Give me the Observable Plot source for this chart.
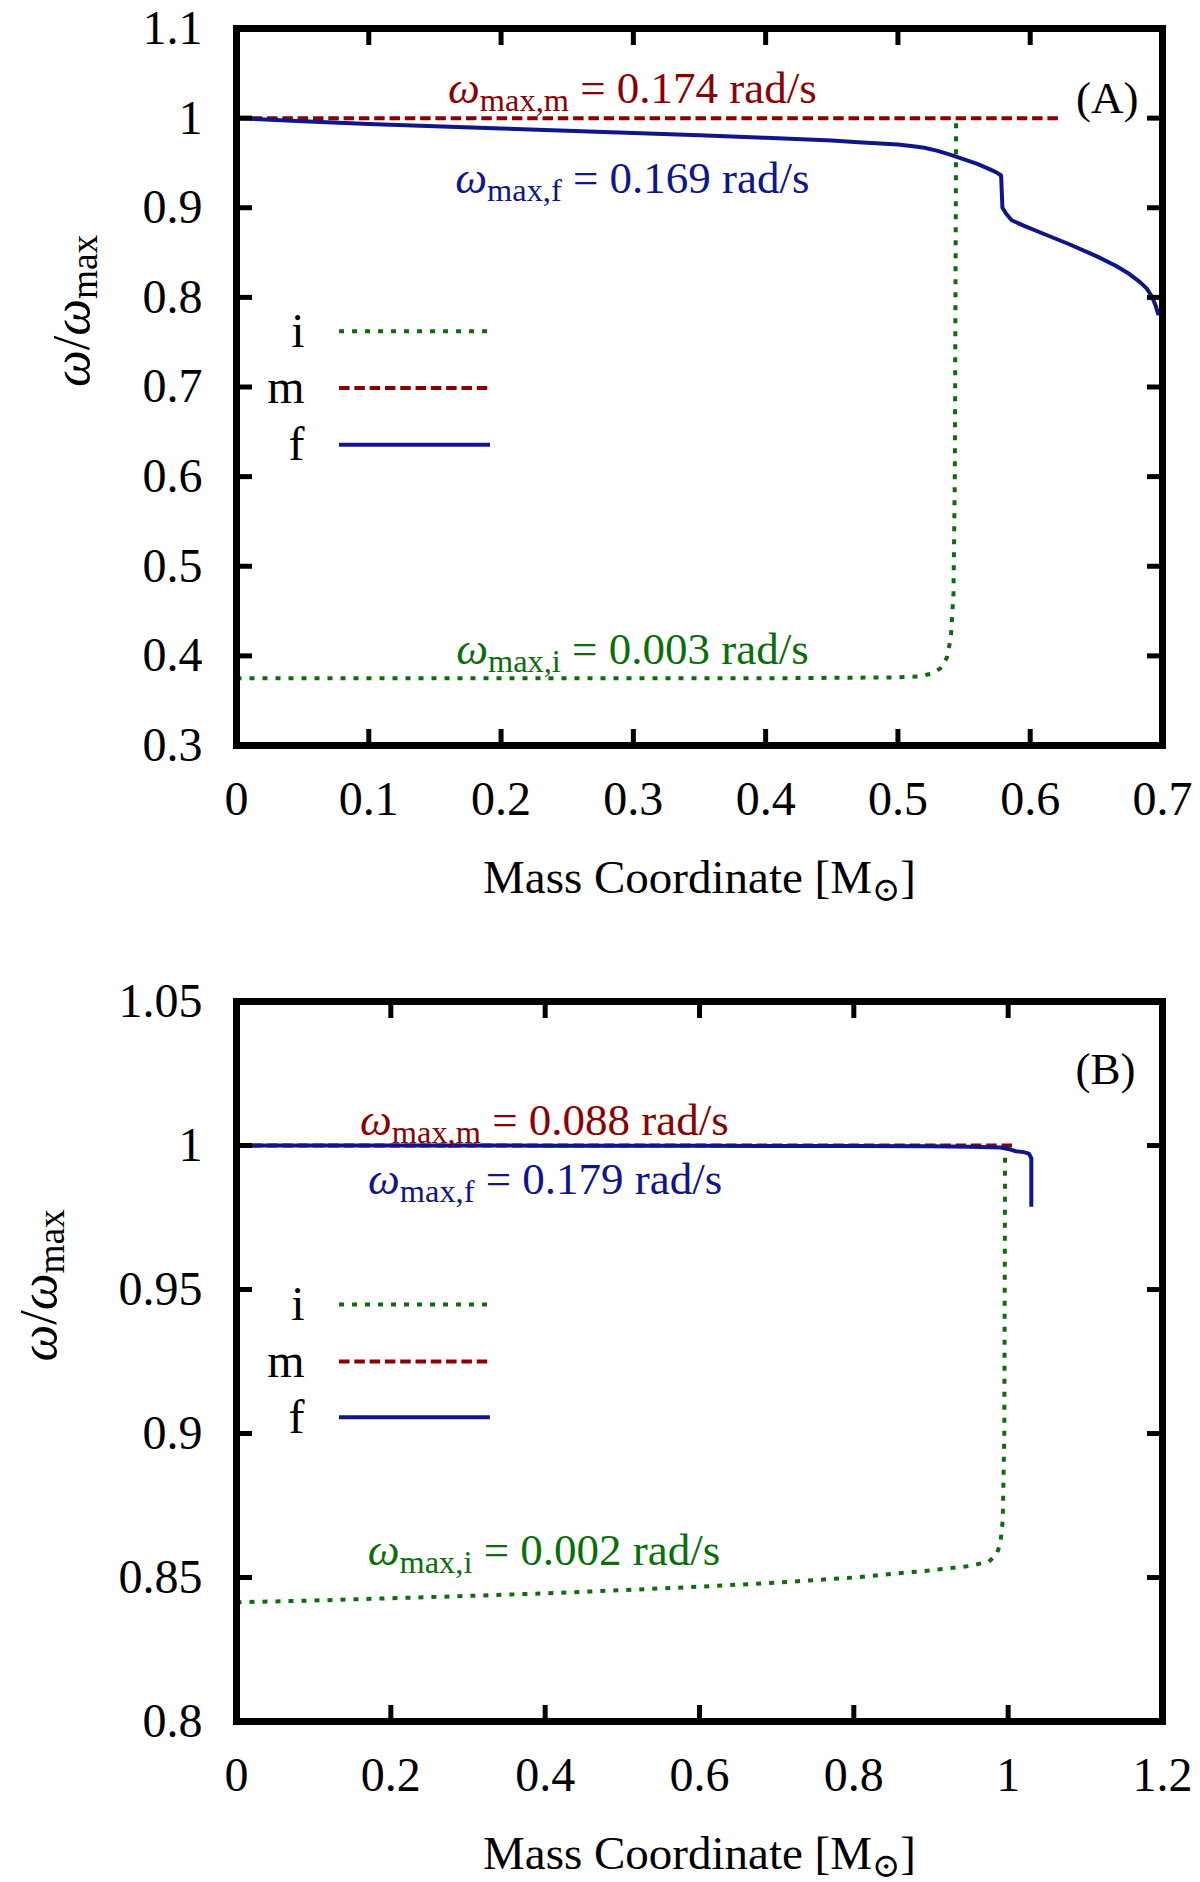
<!DOCTYPE html>
<html>
<head>
<meta charset="utf-8">
<script src="https://cdn.jsdelivr.net/npm/d3@7"></script>
<script src="https://cdn.jsdelivr.net/npm/@observablehq/plot@0.6"></script>
<style>
  body { margin: 0; background: #fff; }
  #chart { width: 1200px; }
  #chart svg { display: block; }
</style>
</head>
<body>
<div id="chart"></div>
<script>
// ---- panel (A) ----
const massA_i = [0, 0.1, 0.2, 0.3, 0.4, 0.5, 0.515, 0.525, 0.532, 0.537, 0.540, 0.542, 0.543, 0.5435, 0.544]
const omegaA_i = [0.375, 0.375, 0.375, 0.375, 0.375, 0.376, 0.377, 0.380, 0.386, 0.398, 0.42, 0.47, 0.6, 0.8, 1.0]
const massA_m = [0, 0.623]
const omegaA_m = [1.0, 1.0]
const massA_f = [0, 0.05, 0.1, 0.15, 0.2, 0.25, 0.3, 0.35, 0.4, 0.45, 0.47, 0.49, 0.5, 0.51, 0.52, 0.53, 0.54, 0.55, 0.56, 0.57, 0.575, 0.578, 0.579, 0.582, 0.586, 0.595, 0.61, 0.63, 0.65, 0.665, 0.675, 0.683, 0.688, 0.692, 0.695, 0.697]
const omegaA_f = [1.0, 0.9965, 0.9935, 0.991, 0.9885, 0.986, 0.9835, 0.981, 0.978, 0.975, 0.973, 0.9715, 0.9705, 0.969, 0.967, 0.9635, 0.959, 0.954, 0.949, 0.9425, 0.939, 0.936, 0.90, 0.893, 0.886, 0.880, 0.871, 0.859, 0.846, 0.835, 0.826, 0.817, 0.810, 0.801, 0.79, 0.78]
const ticksA_x = [0, 0.1, 0.2, 0.3, 0.4, 0.5, 0.6, 0.7]
const labelsA_x = ["0", "0.1", "0.2", "0.3", "0.4", "0.5", "0.6", "0.7"]
const ticksA_y = [0.3, 0.4, 0.5, 0.6, 0.7, 0.8, 0.9, 1.0, 1.1]
const labelsA_y = ["0.3", "0.4", "0.5", "0.6", "0.7", "0.8", "0.9", "1", "1.1"]
const notesA = ["ω_{max,m} = 0.174 rad/s", "ω_{max,f} = 0.169 rad/s", "ω_{max,i} = 0.003 rad/s"]
const tagA = "(A)"

// ---- panel (B) ----
const massB_i = [0, 0.1, 0.2, 0.3, 0.4, 0.5, 0.6, 0.7, 0.8, 0.9, 0.95, 0.975, 0.985, 0.99, 0.993, 0.995, 0.996]
const omegaB_i = [0.8414, 0.8420, 0.8428, 0.8436, 0.8445, 0.8456, 0.8468, 0.8482, 0.8500, 0.8525, 0.8540, 0.8555, 0.858, 0.862, 0.87, 0.9, 1.0]
const massB_m = [0, 1.011]
const omegaB_m = [1.0, 1.0]
const massB_f = [0, 0.2, 0.4, 0.6, 0.8, 0.9, 0.95, 0.99, 1.0, 1.01, 1.02, 1.027, 1.03, 1.03]
const omegaB_f = [1.0, 1.0, 0.99995, 0.9999, 0.9998, 0.9997, 0.9996, 0.9993, 0.9988, 0.998, 0.9977, 0.9972, 0.9955, 0.9787]
const ticksB_x = [0, 0.2, 0.4, 0.6, 0.8, 1.0, 1.2]
const labelsB_x = ["0", "0.2", "0.4", "0.6", "0.8", "1", "1.2"]
const ticksB_y = [0.8, 0.85, 0.9, 0.95, 1.0, 1.05]
const labelsB_y = ["0.8", "0.85", "0.9", "0.95", "1", "1.05"]
const notesB = ["ω_{max,m} = 0.088 rad/s", "ω_{max,f} = 0.179 rad/s", "ω_{max,i} = 0.002 rad/s"]
const tagB = "(B)"

const keys = ["i", "m", "f"]
const colors = {i: "#0b6e0b", m: "#8b0000", f: "#0f168c"}
const dashes = {i: "5,8", m: "10.5,4.8", f: null}

const font = "'Liberation Serif', 'Times New Roman', 'DejaVu Serif', serif"

function series(xs, ys) {
  return xs.map((x, i) => ({x, y: ys[i]}))
}

function makePanel(p) {
  const lines = keys.map(k => Plot.line(series(p.mass[k], p.omega[k]), {
    x: "x", y: "y", stroke: colors[k], strokeWidth: 4,
    strokeDasharray: dashes[k], strokeLinecap: "butt", strokeLinejoin: "round"
  }))
  const legend = keys.map((k, i) => Plot.ruleY([p.legY[i]], {
    x1: p.legX1, x2: p.legX2, stroke: colors[k], strokeWidth: 4,
    strokeDasharray: dashes[k], strokeLinecap: "butt"
  }))
  // notes are listed in key order m, f, i
  const noteKeys = ["m", "f", "i"]
  const notes = p.notes.map((t, i) => ({text: t, c: colors[noteKeys[i]], ...p.notePos[i]}))
  const fmt = (ticks, labels) => d => labels[ticks.findIndex(t => Math.abs(t - d) < 1e-9)]
  return Plot.plot({
    width: 1200,
    height: 941,
    marginLeft: 236,
    marginRight: 38,
    marginTop: p.top,
    marginBottom: p.bottom,
    style: {fontFamily: font, background: "white", color: "black"},
    x: {domain: p.xDomain},
    y: {domain: p.yDomain},
    marks: [
      ...lines,
      ...legend,
      Plot.text(keys, {x: p.legLabelX, y: (d, i) => p.legY[i], text: d => d, textAnchor: "end",
        lineAnchor: "middle", fontSize: 48, fill: "black"}),
      Plot.text(notes, {x: "x", y: "y", text: "text", fill: "c", textAnchor: "middle",
        lineAnchor: "bottom", fontSize: 45}),
      Plot.text([p.tag], {x: p.tagPos.x, y: p.tagPos.y, textAnchor: "end",
        lineAnchor: "bottom", fontSize: 45, fill: "black"}),
      Plot.axisX(p.xTicks, {anchor: "bottom", tickSize: -16, strokeWidth: 5, tickPadding: 51,
        fontSize: 48, tickFormat: fmt(p.xTicks, p.xLabels), label: null}),
      Plot.axisX(p.xTicks, {anchor: "top", tickSize: -16, strokeWidth: 5, tickFormat: () => "", label: null}),
      Plot.axisY(p.yTicks, {anchor: "left", tickSize: -16, strokeWidth: 5, tickPadding: 50,
        fontSize: 48, tickFormat: fmt(p.yTicks, p.yLabels), label: null}),
      Plot.axisY(p.yTicks, {anchor: "right", tickSize: -16, strokeWidth: 5, tickFormat: () => "", label: null}),
      Plot.text(["Mass Coordinate [M_{⊙}]"], {frameAnchor: "bottom", dy: 147, lineAnchor: "bottom",
        fontSize: 47, fill: "black"}),
      Plot.text(["ω/ω_{max}"], {frameAnchor: "left", dx: p.yTitleDx, rotate: -90, lineAnchor: "middle",
        fontSize: 52, fill: "black"}),
      Plot.frame({stroke: "black", strokeWidth: 7})
    ]
  })
}

// italic omega and subscripts as tspans
function richText(svg) {
  d3.select(svg).selectAll("text").each(function() {
    const s = this.textContent
    if (!/[ω_]/.test(s)) return
    this.textContent = ""
    const re = /ω|_\{([^}]*)\}|[^ω_]+/g
    let m, shift = 0
    while ((m = re.exec(s))) {
      const t = d3.select(this).append("tspan")
      if (m[1] !== undefined) {
        t.attr("font-size", "72%").attr("dy", 8).text(m[1])
        shift = 8
        continue
      }
      if (m[0] === "ω") t.attr("font-style", "italic")
      t.text(m[0])
      if (shift) { t.attr("dy", -shift); shift = 0 }
    }
  })
}

const chartA = makePanel({
  mass: {i: massA_i, m: massA_m, f: massA_f},
  omega: {i: omegaA_i, m: omegaA_m, f: omegaA_f},
  xDomain: [0, 0.7], yDomain: [0.3, 1.1], top: 28, bottom: 196,
  xTicks: ticksA_x, xLabels: labelsA_x, yTicks: ticksA_y, yLabels: labelsA_y,
  legY: [0.7622, 0.6989, 0.6356], legX1: 0.0779, legX2: 0.192, legLabelX: 0.0514,
  notes: notesA,
  notePos: [{x: 0.2993, y: 1.0167}, {x: 0.2993, y: 0.9167}, {x: 0.2993, y: 0.3911}],
  tag: tagA, tagPos: {x: 0.6818, y: 1.0056},
  yTitleDx: -164
})

const chartB = makePanel({
  mass: {i: massB_i, m: massB_m, f: massB_f},
  omega: {i: omegaB_i, m: omegaB_m, f: omegaB_f},
  xDomain: [0, 1.2], yDomain: [0.8, 1.05], top: 60, bottom: 161,
  xTicks: ticksB_x, xLabels: labelsB_x, yTicks: ticksB_y, yLabels: labelsB_y,
  legY: [0.9448, 0.925, 0.9056], legX1: 0.1335, legX2: 0.329, legLabelX: 0.0881,
  notes: notesB,
  notePos: [{x: 0.399, y: 1.0035}, {x: 0.400, y: 0.9833}, {x: 0.3985, y: 0.8542}],
  tag: tagB, tagPos: {x: 1.165, y: 1.0215},
  yTitleDx: -197
})

richText(chartA)
richText(chartB)
d3.select('#chart').append(() => chartA)
d3.select('#chart').append(() => chartB)
</script>
</body>
</html>
